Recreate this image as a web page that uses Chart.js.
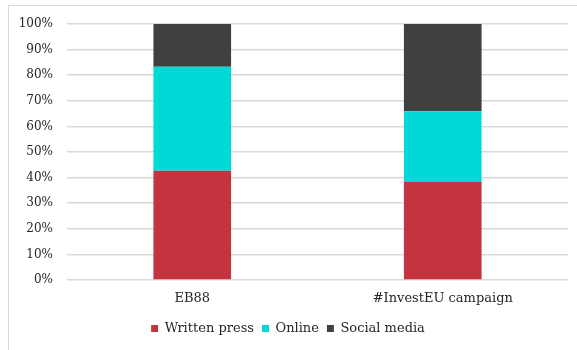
<!DOCTYPE html>
<html>
<head>
<meta charset="utf-8">
<script src="https://cdn.jsdelivr.net/npm/chart.js@4"></script>
<style>
  html, body { margin: 0; padding: 0; background: #fff; }
  #wrap { position: relative; width: 577px; height: 350px; overflow: hidden; }
  #frame { position: absolute; left: 8px; top: 5px; width: 600px; height: 400px; border: 1px solid #d9d9d9; box-sizing: border-box; }
  canvas { position: absolute; left: 0; top: 0; }
</style>
</head>
<body>
<div id="wrap">
  <div id="frame"></div>
  <canvas id="mediaChart" width="577" height="350"></canvas>
</div>
<script>
const categories = ['EB88', '#InvestEU campaign'];
const writtenPress = [42.7, 38.3];
const online = [40.6, 27.6];
const socialMedia = [16.7, 34.1];
const yTicks = [0, 10, 20, 30, 40, 50, 60, 70, 80, 90, 100];

const serif = "'DejaVu Serif', 'Liberation Serif', serif";

const ctx = document.getElementById('mediaChart').getContext('2d');
new Chart(ctx, {
  type: 'bar',
  data: {
    labels: categories,
    datasets: [
      { label: 'Written press', data: writtenPress, backgroundColor: '#c3343f' },
      { label: 'Online', data: online, backgroundColor: '#00d9d5' },
      { label: 'Social media', data: socialMedia, backgroundColor: '#404040' }
    ]
  },
  options: {
    responsive: false,
    animation: false,
    layout: { padding: { left: 8, right: 9, top: 24, bottom: 5 } },
    datasets: {
      bar: { barPercentage: 0.31, categoryPercentage: 1 }
    },
    plugins: {
      legend: {
        position: 'bottom',
        labels: {
          boxWidth: 7,
          boxHeight: 7,
          padding: 8,
          color: '#262626',
          font: { family: serif, size: 13 }
        }
      },
      tooltip: { enabled: false }
    },
    scales: {
      x: {
        stacked: true,
        grid: { display: false, drawTicks: false },
        border: { display: false },
        ticks: { color: '#262626', padding: 11, font: { family: serif, size: 13 } },
        afterFit: axis => { axis.height = 34; }
      },
      y: {
        stacked: true,
        min: 0,
        max: 100,
        afterBuildTicks: axis => { axis.ticks = yTicks.map(v => ({ value: v })); },
        afterFit: axis => { axis.width = 59; },
        grid: { color: '#d9d9d9', lineWidth: 1.5, drawTicks: false },
        border: { display: false },
        ticks: {
          color: '#262626',
          padding: 14,
          font: { family: serif, size: 12 },
          callback: v => v + '%'
        }
      }
    }
  }
});
</script>
</body>
</html>
